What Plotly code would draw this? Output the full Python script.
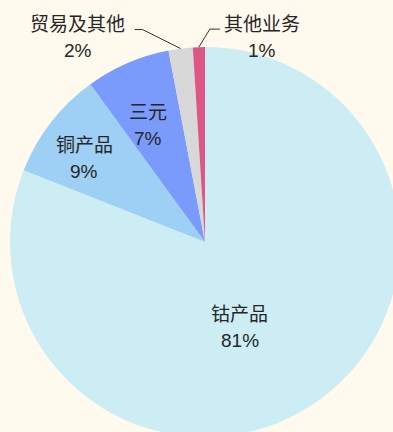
import math
import plotly.graph_objects as go

# Revenue breakdown by business line (%)
categories = ["钴产品", "铜产品", "三元", "贸易及其他", "其他业务"]
shares = [81, 9, 7, 2, 1]
colors = ["#CDEDF5", "#9ECFF4", "#7A9BFB", "#D8D8D8", "#DC5786"]

BG = "#FFF9EE"
CJK_FONT = "Noto Sans CJK SC"
NUM_FONT = "Liberation Sans, Arial, sans-serif"
TEXT_COLOR = "#262626"
CJK_SIZE = 19
NUM_SIZE = 19

W, H = 401, 438
left, top, size = 10, 47, 390
dom_x = [left / W, (left + size) / W]
dom_y = [1 - (top + size) / H, 1 - top / H]
cx, cy = left + size / 2, top + size / 2
R = size / 2


def to_paper(px, py):
    return px / W, 1 - py / H


def mid_angle(i):
    total = sum(shares)
    before = sum(shares[:i])
    return 2 * math.pi * (before + shares[i] / 2) / total


def polar_px(angle, radius):
    return cx + radius * math.sin(angle), cy - radius * math.cos(angle)


def two_line_label(px, py, i, gap=14):
    """Category name above, percentage below, centred on (px, py)."""
    out = []
    x, y = to_paper(px, py - gap)
    out.append(dict(x=x, y=y, xref="paper", yref="paper", xanchor="center", yanchor="middle",
                    text=categories[i], showarrow=False,
                    font=dict(family=CJK_FONT, size=CJK_SIZE, color=TEXT_COLOR)))
    x, y = to_paper(px, py + gap)
    out.append(dict(x=x, y=y, xref="paper", yref="paper", xanchor="center", yanchor="middle",
                    text=f"{shares[i]}%", showarrow=False,
                    font=dict(family=NUM_FONT, size=NUM_SIZE, color=TEXT_COLOR)))
    return out


fig = go.Figure(
    go.Pie(
        labels=categories,
        values=shares,
        sort=False,
        direction="clockwise",
        rotation=0,
        marker=dict(colors=colors, line=dict(width=0)),
        textinfo="none",
        hovertemplate="%{label}: %{value}%<extra></extra>",
        domain=dict(x=dom_x, y=dom_y),
        showlegend=False,
    )
)

annotations = []
shapes = []

# labels placed inside their slices: (radial fraction, angular nudge in degrees)
inside_style = {0: (0.47, 12), 1: (0.755, -3), 2: (0.67, -2.6)}
for i, (frac, nudge) in inside_style.items():
    px, py = polar_px(mid_angle(i) + math.radians(nudge), frac * R)
    annotations += two_line_label(px, py, i)

# small slices labelled outside with an elbow leader line
# (elbow offset from slice edge, tail length, label centre offset from slice edge)
outside_style = {
    3: ((-38, -19), -8, (-103, -12)),
    4: ((11, -18), 10, (63, -11)),
}
for i, (elbow, tail, lab) in outside_style.items():
    ex, ey = polar_px(mid_angle(i), R)
    bx, by = ex + elbow[0], ey + elbow[1]
    tx, ty = bx + tail, by
    p0, p1, p2 = to_paper(ex, ey), to_paper(bx, by), to_paper(tx, ty)
    shapes.append(dict(type="path", xref="paper", yref="paper",
                       path=f"M {p0[0]},{p0[1]} L {p1[0]},{p1[1]} L {p2[0]},{p2[1]}",
                       line=dict(color="#333333", width=1)))
    annotations += two_line_label(ex + lab[0], ey + lab[1], i)

fig.update_layout(
    width=W,
    height=H,
    margin=dict(l=0, r=0, t=0, b=0),
    paper_bgcolor=BG,
    plot_bgcolor=BG,
    annotations=annotations,
    shapes=shapes,
)

fig.write_html("out.html")
